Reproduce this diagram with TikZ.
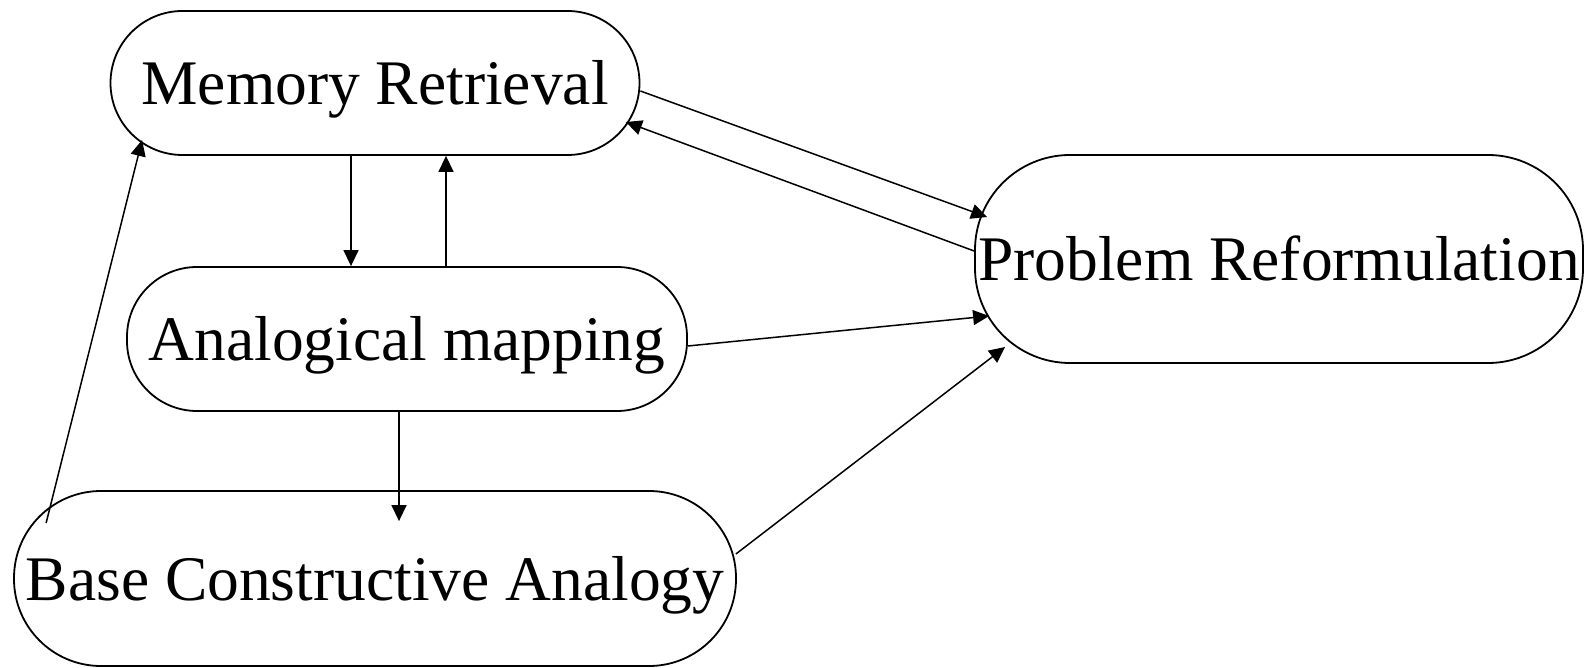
\documentclass[tikz,border=0pt]{standalone}
\usepackage{fontspec}
\setmainfont{Liberation Serif}
\usetikzlibrary{arrows.meta}
\begin{document}
\begin{tikzpicture}[x=1pt,y=1pt,
  box/.style={draw, line width=1.8pt, inner sep=0pt, text height=43pt, text depth=0pt,
    font=\fontsize{63.5}{70}\selectfont},
  conn/.style={line width=1.5pt, -{Triangle[length=16pt,width=15pt]}}]
\useasboundingbox (0,0) rectangle (1592,667);
\node[box, minimum width=529pt, minimum height=144pt, rounded corners=72pt] (mr) at (375,584) {Memory Retrieval};
\node[box, minimum width=560pt, minimum height=144pt, rounded corners=70pt] (am) at (407,328) {Analogical mapping};
\node[box, minimum width=722pt, minimum height=175pt, rounded corners=87pt] (bca) at (375,88.5) {Base Constructive Analogy};
\node[box, minimum width=608pt, minimum height=208pt, rounded corners=95pt] (pr) at (1279,408) {Problem Reformulation};
\draw[conn] ([xshift=-24pt]mr.south) -- ([xshift=-56pt]am.north);
\draw[conn] ([xshift=39pt]am.north) -- ([xshift=71pt]mr.south);
\draw[conn] ([yshift=-8pt]mr.east) -- ([xshift=13pt,yshift=42pt]pr.west);
\draw[conn] ([yshift=8pt]pr.west) -- ([xshift=-14.5pt,yshift=-39pt]mr.east);
\draw[conn] ([yshift=-7pt]am.east) -- ([xshift=15pt,yshift=-57pt]pr.west);
\draw[conn] ([xshift=-8pt]am.south) -- ([xshift=24pt,yshift=-31pt]bca.north);
\draw[conn] ([xshift=33pt,yshift=55.5pt]bca.west) -- ([xshift=32.5pt,yshift=-57pt]mr.west);
\draw[conn] ([xshift=-1pt,yshift=24.5pt]bca.east) -- ([xshift=31pt,yshift=-88pt]pr.west);
\end{tikzpicture}
\end{document}
